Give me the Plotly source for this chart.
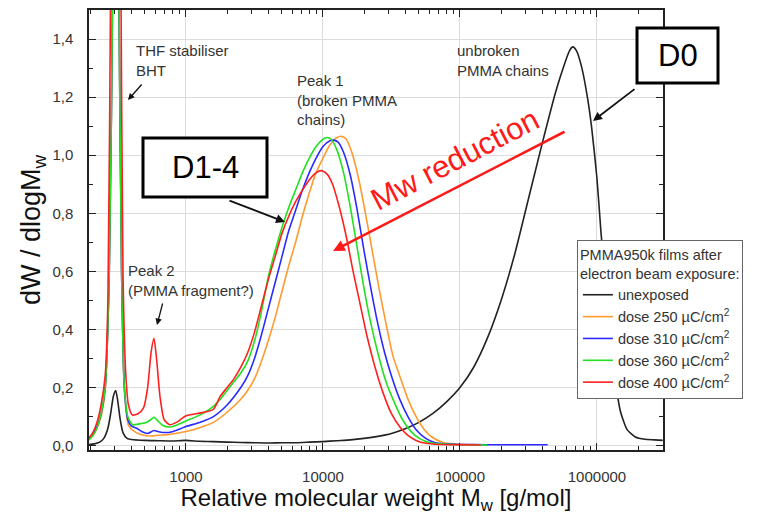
import plotly.graph_objects as go

# ---------------- data (log10 of Mw, dW/dlogMw) ----------------
unexposed_logM = [2.29, 2.33, 2.37, 2.40, 2.43, 2.45, 2.47, 2.487, 2.50, 2.52, 2.54, 2.57, 2.62, 2.7, 2.8,
                  2.9, 3.0, 3.1, 3.2, 3.3, 3.4, 3.5, 3.6, 3.7, 3.8, 3.9, 4.0, 4.1, 4.2, 4.3, 4.4, 4.5,
                  4.6, 4.7, 4.8, 4.9, 5.0, 5.1, 5.2, 5.3, 5.4, 5.5, 5.6, 5.7, 5.76, 5.8, 5.823, 5.85,
                  5.89, 5.93, 5.96, 6.0, 6.03, 6.07, 6.1, 6.13, 6.17, 6.22, 6.28, 6.35, 6.42, 6.48]
unexposed_y = [0.004, 0.006, 0.012, 0.025, 0.06, 0.11, 0.17, 0.19, 0.16, 0.09, 0.045, 0.025, 0.02, 0.018,
               0.017, 0.016, 0.018, 0.015, 0.014, 0.012, 0.011, 0.01, 0.009, 0.01, 0.01, 0.012, 0.014,
               0.017, 0.02, 0.025, 0.032, 0.042, 0.058, 0.08, 0.11, 0.15, 0.2, 0.27, 0.37, 0.5, 0.66,
               0.85, 1.04, 1.22, 1.31, 1.36, 1.373, 1.36, 1.3, 1.2, 1.1, 0.92, 0.73, 0.52, 0.37, 0.24,
               0.12, 0.055, 0.03, 0.022, 0.02, 0.018]

dose250_logM = [2.29, 2.32, 2.35, 2.38, 2.41, 2.44, 2.465, 2.487, 2.51, 2.53, 2.55, 2.58, 2.62, 2.66, 2.70,
                2.75, 2.8, 2.85, 2.9, 3.0, 3.1, 3.2, 3.3, 3.4, 3.45, 3.5, 3.55, 3.6, 3.65, 3.7, 3.75,
                3.8, 3.85, 3.9, 3.95, 4.0, 4.05, 4.1, 4.136, 4.17, 4.21, 4.26, 4.31, 4.36, 4.41, 4.46,
                4.51, 4.56, 4.62, 4.68, 4.74, 4.8, 4.87, 4.95, 5.05, 5.2]
dose250_y = [0.02, 0.035, 0.06, 0.1, 0.19, 0.6, 1.6, 4.0, 1.6, 0.6, 0.2, 0.07, 0.05, 0.04, 0.035, 0.033,
             0.036, 0.037, 0.04, 0.049, 0.062, 0.08, 0.115, 0.16, 0.19, 0.23, 0.29, 0.36, 0.44, 0.53,
             0.62, 0.7, 0.79, 0.87, 0.94, 0.99, 1.035, 1.06, 1.065, 1.055, 1.01, 0.92, 0.8, 0.67, 0.54,
             0.42, 0.31, 0.24, 0.16, 0.1, 0.055, 0.028, 0.012, 0.006, 0.004, 0.003]

dose310_logM = [2.29, 2.32, 2.35, 2.38, 2.41, 2.44, 2.465, 2.487, 2.51, 2.53, 2.55, 2.575, 2.6, 2.64, 2.68,
                2.72, 2.766, 2.8, 2.85, 2.9, 3.0, 3.1, 3.2, 3.3, 3.4, 3.45, 3.5, 3.55, 3.6, 3.65, 3.7,
                3.75, 3.8, 3.85, 3.9, 3.95, 4.0, 4.05, 4.08, 4.11, 4.15, 4.2, 4.25, 4.3, 4.35, 4.4,
                4.45, 4.5, 4.56, 4.62, 4.68, 4.75, 4.82, 4.9, 5.0, 5.2, 5.4, 5.64]
dose310_y = [0.025, 0.04, 0.065, 0.11, 0.2, 0.6, 1.6, 4.0, 1.6, 0.6, 0.2, 0.09, 0.068, 0.06, 0.048,
             0.042, 0.052, 0.048, 0.045, 0.048, 0.066, 0.08, 0.1, 0.14, 0.2, 0.24, 0.3, 0.38, 0.47,
             0.56, 0.65, 0.74, 0.81, 0.88, 0.94, 0.99, 1.03, 1.05, 1.052, 1.045, 1.01, 0.93, 0.81,
             0.67, 0.54, 0.42, 0.32, 0.24, 0.16, 0.1, 0.055, 0.025, 0.01, 0.006, 0.004, 0.003, 0.003,
             0.003]

dose360_logM = [2.29, 2.32, 2.35, 2.38, 2.41, 2.44, 2.465, 2.487, 2.51, 2.53, 2.55, 2.575, 2.61, 2.66,
                2.71, 2.745, 2.766, 2.79, 2.83, 2.88, 2.94, 3.0, 3.1, 3.2, 3.25, 3.3, 3.35, 3.4, 3.45,
                3.5, 3.55, 3.6, 3.65, 3.7, 3.75, 3.8, 3.85, 3.9, 3.95, 4.0, 4.03, 4.06, 4.1, 4.15, 4.2,
                4.25, 4.3, 4.35, 4.4, 4.46, 4.52, 4.58, 4.64, 4.7, 4.78, 4.9, 5.05, 5.2]
dose360_y = [0.02, 0.035, 0.06, 0.11, 0.2, 0.6, 1.6, 4.0, 1.6, 0.6, 0.2, 0.1, 0.072, 0.075, 0.08, 0.09,
             0.098, 0.088, 0.07, 0.064, 0.072, 0.085, 0.105, 0.135, 0.16, 0.19, 0.22, 0.25, 0.29, 0.36,
             0.46, 0.58, 0.67, 0.75, 0.82, 0.88, 0.94, 0.99, 1.03, 1.055, 1.061, 1.055, 1.02, 0.94,
             0.82, 0.68, 0.54, 0.42, 0.32, 0.22, 0.15, 0.09, 0.05, 0.026, 0.01, 0.005, 0.003, 0.002]

dose400_logM = [2.29, 2.32, 2.35, 2.38, 2.41, 2.43, 2.45, 2.487, 2.525, 2.54, 2.56, 2.58, 2.61, 2.65,
                2.69, 2.72, 2.745, 2.766, 2.785, 2.81, 2.84, 2.88, 2.93, 3.0, 3.1, 3.2, 3.25, 3.3, 3.35,
                3.4, 3.45, 3.5, 3.55, 3.6, 3.65, 3.7, 3.75, 3.8, 3.85, 3.9, 3.95, 3.99, 4.03, 4.07,
                4.12, 4.17, 4.22, 4.27, 4.32, 4.38, 4.44, 4.5, 4.56, 4.62, 4.68, 4.75, 4.85, 5.0, 5.15]
dose400_y = [0.025, 0.045, 0.08, 0.14, 0.24, 0.5, 1.6, 4.0, 1.6, 0.6, 0.25, 0.14, 0.105, 0.11, 0.13,
             0.2, 0.32, 0.37, 0.3, 0.17, 0.09, 0.072, 0.08, 0.103, 0.112, 0.125, 0.17, 0.2, 0.23, 0.27,
             0.32, 0.39, 0.48, 0.57, 0.65, 0.73, 0.79, 0.84, 0.88, 0.915, 0.94, 0.947, 0.935, 0.9,
             0.82, 0.72, 0.6, 0.49, 0.38, 0.27, 0.18, 0.11, 0.065, 0.035, 0.018, 0.008, 0.004, 0.003,
             0.002]

series_names = ["unexposed", "dose 250 µC/cm<sup>2</sup>", "dose 310 µC/cm<sup>2</sup>",
                "dose 360 µC/cm<sup>2</sup>", "dose 400 µC/cm<sup>2</sup>"]
series_colors = ["#222222", "#ff9a2e", "#2b2bff", "#22e022", "#ff2020"]
series_logM = [unexposed_logM, dose250_logM, dose310_logM, dose360_logM, dose400_logM]
series_y = [unexposed_y, dose250_y, dose310_y, dose360_y, dose400_y]

y_tickvals = [0.0, 0.2, 0.4, 0.6, 0.8, 1.0, 1.2, 1.4]
y_ticktext = ["0,0", "0,2", "0,4", "0,6", "0,8", "1,0", "1,2", "1,4"]
x_tickvals = [1000, 10000, 100000, 1000000]
x_ticktext = ["1000", "10000", "100000", "1000000"]
x_minor = [m * 10 ** e for e in range(2, 7) for m in range(2, 10)]

FONT = "Arial, Liberation Sans, sans-serif"
TXT = "#333333"

fig = go.Figure()
for name, col, lm, yy in zip(series_names, series_colors, series_logM, series_y):
    fig.add_trace(go.Scatter(
        x=[10 ** v for v in lm], y=yy, mode="lines", name=name,
        line=dict(color=col, width=1.6, shape="spline", smoothing=0.6),
    ))

# the page body adds an 8px offset; plot area at page (89..663, 10..450)
fig.update_layout(
    width=752, height=507,
    margin=dict(l=81, r=97, t=2, b=65, autoexpand=False),
    paper_bgcolor="white", plot_bgcolor="white",
    font=dict(family=FONT, color=TXT),
    showlegend=True,
    legend=dict(
        x=0.850, y=0.477, xanchor="left", yanchor="top",
        bgcolor="white", bordercolor="#666666", borderwidth=1,
        font=dict(size=14.5, color=TXT, family=FONT),
        title=dict(text="PMMA950k films after<br>electron beam exposure:",
                   font=dict(size=14.5, color=TXT, family=FONT), side="top"),
        tracegroupgap=0, itemwidth=30,
    ),
    xaxis=dict(
        type="log", range=[2.292, 6.482], automargin=False,
        tickvals=x_tickvals, ticktext=x_ticktext,
        ticks="inside", ticklen=7, tickwidth=1.2, tickcolor="#222",
        showline=True, linecolor="#222", linewidth=1.5, mirror="allticks",
        showgrid=True, gridcolor="#dcdcdc", gridwidth=1,
        minor=dict(tickvals=x_minor, ticks="inside", ticklen=4, tickcolor="#222", showgrid=False),
        tickfont=dict(size=15, color=TXT), ticklabelstandoff=12,
        title=dict(text="Relative molecular weight M<sub>w</sub> [g/mol]",
                   font=dict(size=24, color="#111"), standoff=6),
        zeroline=False,
    ),
    yaxis=dict(
        range=[-0.015, 1.5], automargin=False,
        tickvals=y_tickvals, ticktext=y_ticktext,
        ticks="inside", ticklen=7, tickwidth=1.2, tickcolor="#222",
        showline=True, linecolor="#222", linewidth=1.5, mirror="allticks",
        showgrid=True, gridcolor="#dcdcdc", gridwidth=1,
        minor=dict(dtick=0.1, tick0=0, ticks="inside", ticklen=4, tickcolor="#222", showgrid=False),
        tickfont=dict(size=15, color=TXT), ticklabelstandoff=11,
        title=dict(text="dW / dlogM<sub>w</sub>", font=dict(size=27, color="#111"), standoff=4),
        zeroline=False,
    ),
)

def note(text, x, y, size=15, color=TXT, align="left"):
    fig.add_annotation(text=text, xref="paper", yref="paper", x=x, y=y,
                       xanchor="left", yanchor="top", showarrow=False, align=align,
                       font=dict(size=size, color=color, family=FONT))

W0, H0 = 89, 10
PW, PH = 574, 440
def px(xp):
    return (xp - W0) / PW
def py(yp):
    return 1 - (yp - H0) / PH

note("THF stabiliser<br>BHT", px(134), py(40))
note("Peak 1<br>(broken PMMA<br>chains)", px(295), py(70))
note("Peak 2<br>(PMMA fragment?)", px(126), py(260))
note("unbroken<br>PMMA chains", px(455), py(40))

def arrow(x0, y0, x1, y1, color="#111", width=1.3, head=2, size=1.0):
    fig.add_annotation(xref="paper", yref="paper", axref="pixel", ayref="pixel",
                       x=px(x1), y=py(y1), ax=x0 - x1, ay=y0 - y1, text="",
                       showarrow=True, arrowhead=head, arrowsize=size, arrowwidth=width,
                       arrowcolor=color)

arrow(143, 83, 128, 100)
arrow(163, 302, 157, 325)
arrow(636, 88, 593, 121, width=1.8)
arrow(228, 200, 285, 222, width=1.8)
arrow(566, 131, 333, 251, color="#ff1a1a", width=2.6, head=2, size=0.9)

def box(x0, y0, x1, y1, label):
    fig.add_shape(type="rect", xref="paper", yref="paper",
                  x0=px(x0), y0=py(y0), x1=px(x1), y1=py(y1),
                  line=dict(color="#000", width=3), fillcolor="white", layer="above")
    fig.add_annotation(text=label, xref="paper", yref="paper",
                       x=px((x0 + x1) / 2), y=py((y0 + y1) / 2),
                       xanchor="center", yanchor="middle",
                       showarrow=False, font=dict(size=31, color="#000", family=FONT))

box(637, 28, 718, 83, "D0")
box(143, 138, 267, 197, "D1-4")

fig.add_annotation(text="Mw reduction", xref="paper", yref="paper",
                   x=px(455), y=py(160), xanchor="center", yanchor="middle",
                   showarrow=False, textangle=-27.5,
                   font=dict(size=31, color="#ff1a1a", family=FONT))

fig.write_html("out.html")
